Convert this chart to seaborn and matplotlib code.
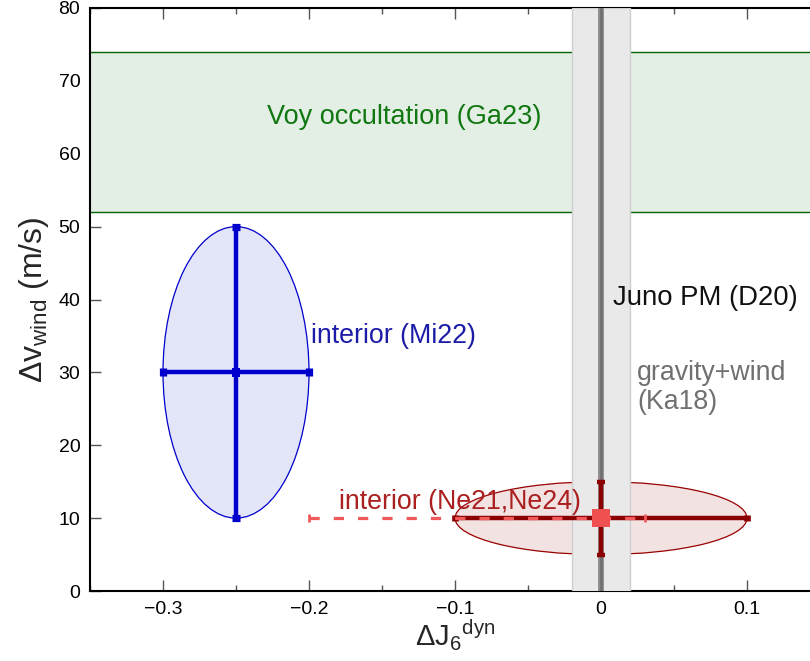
import matplotlib
matplotlib.use("Agg")
import matplotlib.pyplot as plt
from matplotlib.patches import Ellipse
import seaborn as sns
import pandas as pd
import numpy as np

# ---------------- data ----------------
voy_band = [52, 74]                 # Voyager occultation range of dv_wind
juno_band = [-0.02, 0.02]           # Juno PM gravity J6 range
juno_center = 0.0

mi22_center = [-0.25, 30]
mi22_err = [0.05, 20]

ne_center = [0.0, 10]
ne_err = [0.1, 5]
ne_dash_x = [-0.2, 0.03]
ne_dash_y = [10, 10]

x_ticks = [-0.3, -0.2, -0.1, 0.0, 0.1]
x_tick_labels = ["\u22120.3", "\u22120.2", "\u22120.1", "0", "0.1"]
y_ticks = [0, 10, 20, 30, 40, 50, 60, 70, 80]

labels = ["Voy occultation (Ga23)", "Juno PM (D20)", "interior (Mi22)",
          "gravity+wind\n(Ka18)", "interior (Ne21,Ne24)"]
label_x = [-0.135, 0.0082, -0.1986, 0.0247, -0.1795]
label_y = [65.0, 40.2, 35.0, 27.9, 12.2]

# ---------------- style ----------------
sns.set_theme(style="ticks")
plt.rcParams['font.family'] = ['Liberation Sans', 'DejaVu Sans']
plt.rcParams['mathtext.fontset'] = 'custom'
plt.rcParams['mathtext.rm'] = 'Liberation Sans'
plt.rcParams['mathtext.it'] = 'Liberation Sans'
plt.rcParams['mathtext.bf'] = 'Liberation Sans:bold'

fig = plt.figure(figsize=(8.10, 6.61), dpi=100)
ax = fig.add_axes([90/810, 70/661, 730/810, 583/661])

# green band
ax.axhspan(voy_band[0], voy_band[1], facecolor="#e3efe5", edgecolor="none", zorder=1)
for yv in voy_band:
    ax.axhline(yv, color="#006400", lw=1.0, zorder=1.5)

# ellipses
ax.add_patch(Ellipse((ne_center[0], ne_center[1]), 2*ne_err[0], 2*ne_err[1],
                     facecolor="#f3e2e2", edgecolor="#990000", lw=0.9, zorder=2))
ax.add_patch(Ellipse((mi22_center[0], mi22_center[1]), 2*mi22_err[0], 2*mi22_err[1],
                     facecolor="#e3e5f8", edgecolor="#0000cc", lw=0.9, zorder=2))

# gray Juno band
ax.axvspan(juno_band[0], juno_band[1], facecolor="#e9e9e9", edgecolor="#cfcfcf", lw=1.0, zorder=3)
ax.axvline(juno_center, color="#8c8c8c", lw=4.2, zorder=4)
ax.axvline(juno_center, color="#727272", lw=2.0, zorder=4.1)

# blue error bars
ax.errorbar([mi22_center[0]], [mi22_center[1]], xerr=[mi22_err[0]], yerr=[mi22_err[1]],
            fmt="none", ecolor="#0000cc", elinewidth=3.2, capsize=2.6, capthick=5.2, zorder=5)

# red error bars
ax.errorbar([ne_center[0]], [ne_center[1]], xerr=[ne_err[0]],
            fmt="none", ecolor="#8b0000", elinewidth=3.2, capsize=2.4, capthick=4.8, zorder=5)
ax.errorbar([ne_center[0]], [ne_center[1]], yerr=[ne_err[1]],
            fmt="none", ecolor="#8b0000", elinewidth=3.2, capsize=3.0, capthick=3.2, zorder=5)

# dashed light-red range
ax.plot(ne_dash_x, ne_dash_y, color="#f05a5a", lw=2.3, linestyle=(0, (3.2, 4.4)), zorder=6)
ax.plot(ne_dash_x, ne_dash_y, color="#f05a5a", lw=0, marker="|", markersize=6,
        markeredgewidth=2.0, zorder=6)

# center markers via seaborn
pts = pd.DataFrame({"x": [mi22_center[0]], "y": [mi22_center[1]]})
sns.scatterplot(data=pts, x="x", y="y", marker="s", s=40, color="#0000cc",
                edgecolor="none", ax=ax, zorder=7, legend=False)
pts2 = pd.DataFrame({"x": [ne_center[0]], "y": [ne_center[1]]})
sns.scatterplot(data=pts2, x="x", y="y", marker="s", s=160, color="#f05050",
                edgecolor="none", ax=ax, zorder=7, legend=False)

# text annotations
ax.text(label_x[0], label_y[0], labels[0], color="#117711", fontsize=19.5,
        ha="center", va="center", zorder=8)
ax.text(label_x[1], label_y[1], labels[1], color="#111111", fontsize=19.8,
        ha="left", va="center", zorder=8)
ax.text(label_x[2], label_y[2], labels[2], color="#1c1ca8", fontsize=19.3,
        ha="left", va="center", zorder=8)
ax.text(label_x[3], label_y[3], labels[3], color="#707070", fontsize=19.3,
        ha="left", va="center", linespacing=1.15, zorder=8)
ax.text(label_x[4], label_y[4], labels[4], color="#aa1f1f", fontsize=19.3,
        ha="left", va="center", zorder=8)

# axes
ax.set_xlim(-0.35, 0.15)
ax.set_ylim(0, 80)
ax.set_xticks(x_ticks)
ax.set_xticklabels(x_tick_labels)
ax.set_xticks(np.arange(-0.35, 0.151, 0.05), minor=True)
ax.set_yticks(y_ticks)
ax.tick_params(axis="both", which="major", direction="in", length=8, width=1.0,
               color="#555555", labelsize=14, top=True, right=False, pad=7, labelcolor="black")
ax.tick_params(axis="x", which="minor", direction="in", length=4, width=1.0,
               color="#555555", top=True)
for s in ax.spines.values():
    s.set_linewidth(1.5)
    s.set_color("black")

ax.set_xlabel("\u0394J$_{6}$$^{\\rm dyn}$", fontsize=21, labelpad=0)
ax.set_ylabel("\u0394v$_{\\rm wind}$ (m/s)", fontsize=23, labelpad=5)
ax.grid(False)

fig.savefig("out.png", dpi=100)
